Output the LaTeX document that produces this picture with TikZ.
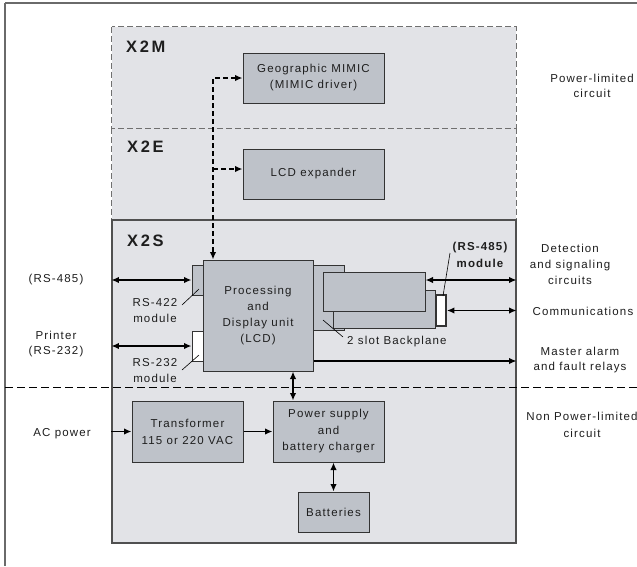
\documentclass[tikz,border=0pt]{standalone}
\usepackage{fontspec}
\setmainfont{Liberation Sans}[LetterSpace=10]
\newfontfamily\titlefont{Liberation Sans}[LetterSpace=16]
\usetikzlibrary{arrows.meta}
\definecolor{panel}{HTML}{E2E3E7}
\definecolor{boxfill}{HTML}{BEC2C9}
\definecolor{boxline}{HTML}{333333}
\definecolor{panelline}{HTML}{505050}
\definecolor{dashgray}{HTML}{707070}
\definecolor{framegray}{HTML}{6A6A6A}
\definecolor{txt}{HTML}{1E1E1E}
\begin{document}
\begin{tikzpicture}[x=1pt,y=-1pt,
  font=\fontsize{11.5}{16}\selectfont, text=txt,
  pnl/.style={fill=panel, inner sep=0pt},
  blk/.style={draw=boxline, fill=boxfill, line width=1pt, inner sep=0pt, align=center},
  wbox/.style={draw=boxline, fill=white, line width=1pt, inner sep=0pt},
  ttl/.style={font=\titlefont\bfseries\fontsize{16.5}{18}\selectfont, anchor=west, inner sep=0pt},
  lbl/.style={align=center, inner sep=0pt},
  arr/.style={line width=1.9pt, -{Latex[length=7.5pt,width=6.5pt]}},
  darr/.style={line width=1.9pt, {Latex[length=7.5pt,width=6.5pt]}-{Latex[length=7.5pt,width=6.5pt]}},
  dconn/.style={line width=2pt, dash pattern=on 5pt off 3pt},
  lead/.style={line width=0.6pt, draw=black},
  dborder/.style={draw=dashgray, line width=1pt, dash pattern=on 6pt off 3pt}
]
\useasboundingbox (0,0) rectangle (637,566);
\fill[white] (0,0) rectangle (637,566);
% outer frame
\draw[framegray, line width=2pt] (5,3) -- (637,3);
\draw[framegray, line width=1.5pt] (5,3) -- (5,566);

% panels
\node[pnl, minimum width=404pt, minimum height=101pt] (x2m) at (314,77.5) {};
\node[pnl, minimum width=404pt, minimum height=92pt] (x2e) at (314,174) {};
\draw[dborder] (x2m.north west) rectangle (x2m.south east);
\draw[dborder] (x2e.north west) -- (x2e.south west) (x2e.north east) -- (x2e.south east);
\node[pnl, draw=panelline, line width=1.2pt, minimum width=404pt, minimum height=323pt] (x2s) at (314,381.5) {};

\node[ttl] (t2m) at (126,46.5) {X2M};
\node[ttl] (t2e) at (127,146.5) {X2E};
\node[ttl] (t2s) at (127,240.5) {X2S};

% boundary line
\draw[line width=0.8pt, dash pattern=on 8pt off 4pt] (5,387) -- (637,387);

% X2M / X2E boxes
\node[blk, minimum width=141pt, minimum height=50pt] (mimic) at (313.5,78) {Geographic MIMIC\\(MIMIC driver)};
\node[blk, minimum width=141pt, minimum height=50pt] (lcdx) at (313.5,174) {LCD expander};

% backplane and cards
\node[blk, minimum width=31pt, minimum height=65pt] (bp) at (328.5,297.5) {};
\node[blk, minimum width=102pt, minimum height=38pt] (card2) at (384,309) {};
\node[blk, minimum width=102pt, minimum height=39pt] (card1) at (374,291.5) {};
\node[wbox, line width=1.8pt, minimum width=10pt, minimum height=31pt] (rs485) at (441,310.5) {};

% modules and processor
\node[blk, minimum width=11pt, minimum height=30pt] (rs422) at (197.5,280) {};
\node[wbox, minimum width=11pt, minimum height=30pt] (rs232) at (197.5,346) {};
\node[blk, minimum width=110pt, minimum height=111pt] (proc) at (258,315.5) {Processing\\and\\Display unit\\(LCD)};

% power section
\node[blk, minimum width=111pt, minimum height=61pt, font=\fontsize{11.5}{17}\selectfont] (trans) at (187.5,431.5) {Transformer\\115 or 220 VAC};
\node[blk, minimum width=111pt, minimum height=61pt, font=\fontsize{11.5}{16.5}\selectfont] (psu) at (328.5,431.5) {Power supply\\and\\battery charger};
\node[blk, minimum width=71pt, minimum height=40pt] (batt) at (333.5,512) {Batteries};

% dashed connectors
\coordinate (dtop) at (213,78);
\coordinate (dmid) at (213,169);
\draw[dconn, {Latex[length=7.5pt,width=6.5pt]}-{Latex[length=7.5pt,width=6.5pt]}] (mimic.west) -- (dtop) -- (dtop |- proc.north);
\draw[dconn, -{Latex[length=7.5pt,width=6.5pt]}] (dmid) -- (dmid -| lcdx.west);

% left connectors
\draw[darr] (x2s.west |- rs422.west) -- (rs422.west);
\draw[darr] (x2s.west |- rs232.west) -- (rs232.west);
\draw[arr] (x2s.west |- trans.west) -- (trans.west);
\draw[arr] (trans.east) -- (psu.west);

% right connectors
\coordinate (det) at ([yshift=11.5pt]card1.east);
\draw[darr] (det) -- (det -| x2s.east);
\draw[darr] (rs485.east) -- (rs485.east -| x2s.east);
\coordinate (ma) at ([yshift=-45.5pt]proc.east);
\draw[arr] (ma) -- (ma -| x2s.east);

% vertical
\coordinate (pv) at ([xshift=35pt]proc.south);
\draw[darr] (pv) -- (pv |- psu.north);
\draw[darr] (batt.north |- psu.south) -- (batt.north);

% module labels with leaders
\node[lbl] (l422) at (155,310.5) {RS-422\\module};
\draw[lead] (182,305) -- (199,289);
\node[lbl] (l232) at (155,371) {RS-232\\module};
\draw[lead] (182,370) -- (199,355);
\node[lbl, anchor=west] (lbp) at (347,342) {2 slot Backplane};
\draw[lead] (323,320) -- (343,337);
\node[lbl, font=\bfseries\fontsize{11.5}{17}\selectfont] (l485) at (480,254.5) {(RS-485)\\module};
\draw[lead] (450,253) -- (443,296);

% outside labels
\node[lbl] (lrs485) at (56,280) {(RS-485)};
\node[lbl, font=\fontsize{11.5}{15}\selectfont] (lprn) at (56,344.5) {Printer\\(RS-232)};
\node[lbl] (lac) at (62,433.5) {AC power};

\node[lbl, font=\fontsize{11.5}{15}\selectfont] (lpl) at (592,85.5) {Power-limited\\circuit};
\node[lbl, font=\fontsize{11.5}{16}\selectfont] (ldet) at (570,264) {Detection\\and signaling\\circuits};
\node[lbl] (lcom) at (583,311) {Communications};
\node[lbl, font=\fontsize{11.5}{15}\selectfont] (lma) at (580,360.5) {Master alarm\\and fault relays};
\node[lbl, font=\fontsize{11.5}{17}\selectfont] (lnpl) at (582,424.5) {Non Power-limited\\circuit};
\end{tikzpicture}
\end{document}
